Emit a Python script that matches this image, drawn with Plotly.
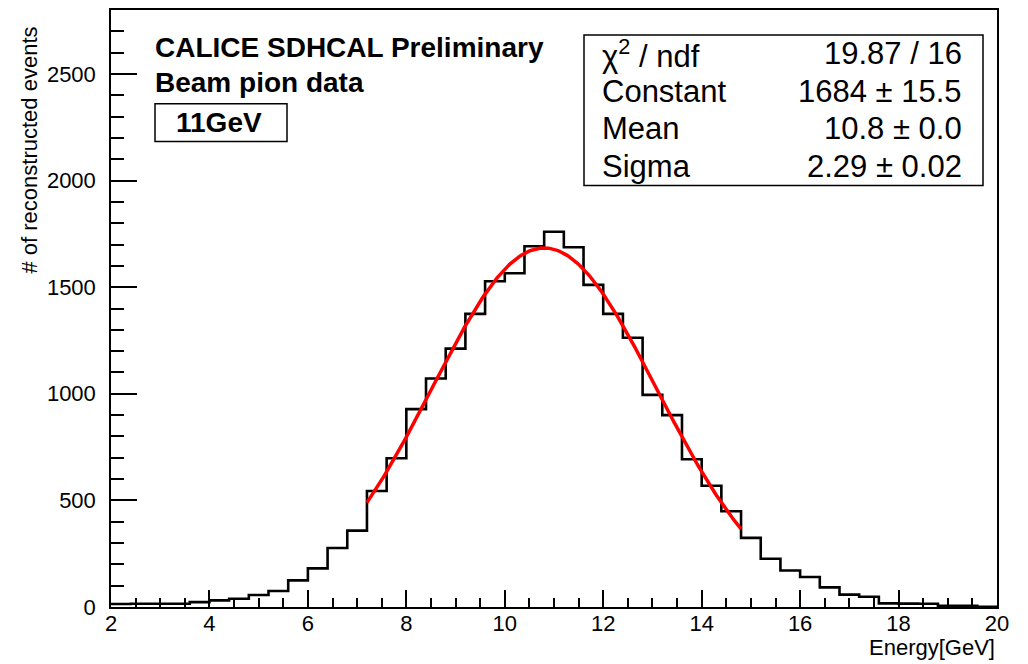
import numpy as np
import plotly.graph_objects as go

# Histogram binning (GeV) and bin contents
bin_low = 2.0
bin_width = 0.4
counts = [14, 15, 15, 15, 23, 31, 39, 56, 75, 125,
          181, 277, 358, 544, 698, 928, 1072, 1212, 1375, 1528,
          1565, 1692, 1760, 1687, 1511, 1375, 1263, 995, 900, 693,
          569, 449, 324, 226, 171, 141, 92, 58, 48, 17,
          16, 15, 6, 6, 1]

# Gaussian fit results
fit_constant = 1684
fit_mean = 10.8
fit_sigma = 2.29
fit_range = [7.2, 14.8]

stats_labels = ["χ<sup>2</sup> / ndf", "Constant", "Mean", "Sigma"]
stats_values = ["19.87 / 16", "1684 ± 15.5", "10.8 ± 0.0", "2.29 ± 0.02"]

W, H = 1028, 664
L, R, T, B = 111, 997, 8, 607  # plot frame in pixels
FONT = "Liberation Sans, Arial, Helvetica, sans-serif"


def px(x):
    return (x - L) / (R - L)


def py(y):
    return (B - y) / (B - T)


edges = bin_low + bin_width * np.arange(len(counts) + 1)
step_y = list(counts) + [counts[-1]]

xf = np.linspace(fit_range[0], fit_range[1], 300)
yf = fit_constant * np.exp(-0.5 * ((xf - fit_mean) / fit_sigma) ** 2)

fig = go.Figure()
fig.add_trace(go.Scatter(x=edges, y=step_y, mode="lines", line_shape="hv",
                         line=dict(color="black", width=2.6), hoverinfo="skip"))
fig.add_trace(go.Scatter(x=xf, y=yf, mode="lines",
                         line=dict(color="#ff0000", width=3.5), hoverinfo="skip"))

shapes = []
annotations = []

# Stats box
sb = (584, 33, 983, 184)
shapes.append(dict(type="rect", xref="paper", yref="paper",
                   x0=px(sb[0]), x1=px(sb[2]), y0=py(sb[3]), y1=py(sb[1]),
                   line=dict(color="black", width=1.5), fillcolor="white"))
row_h = (sb[3] - sb[1]) / len(stats_labels)
for i, (lab, val) in enumerate(zip(stats_labels, stats_values)):
    yc = sb[1] + row_h * (i + 0.5)
    annotations.append(dict(xref="paper", yref="paper", x=px(600), y=py(yc),
                            xanchor="left", yanchor="middle", text=lab, showarrow=False,
                            font=dict(family=FONT, size=31, color="black")))
    annotations.append(dict(xref="paper", yref="paper", x=px(964), y=py(yc),
                            xanchor="right", yanchor="middle", text=val, showarrow=False,
                            font=dict(family=FONT, size=31, color="black")))

# Title texts
annotations.append(dict(xref="paper", yref="paper", x=px(153), y=py(46),
                        xanchor="left", yanchor="middle", text="<b>CALICE SDHCAL Preliminary</b>",
                        showarrow=False, font=dict(family=FONT, size=28, color="black")))
annotations.append(dict(xref="paper", yref="paper", x=px(153), y=py(81),
                        xanchor="left", yanchor="middle", text="<b>Beam pion data</b>",
                        showarrow=False, font=dict(family=FONT, size=28, color="black")))
eb = (155, 102, 287, 140)
shapes.append(dict(type="rect", xref="paper", yref="paper",
                   x0=px(eb[0]), x1=px(eb[2]), y0=py(eb[3]), y1=py(eb[1]),
                   line=dict(color="black", width=1.5), fillcolor="white"))
annotations.append(dict(xref="paper", yref="paper", x=px((eb[0] + eb[2]) / 2 - 2), y=py(121),
                        xanchor="center", yanchor="middle", text="<b>11GeV</b>",
                        showarrow=False, font=dict(family=FONT, size=28, color="black")))

# Axis titles
annotations.append(dict(xref="paper", yref="paper", x=px(997), y=py(648),
                        xanchor="right", yanchor="middle", text="Energy[GeV]",
                        showarrow=False, font=dict(family=FONT, size=22, color="black")))
annotations.append(dict(xref="paper", yref="paper", x=px(30), y=py(149),
                        xanchor="center", yanchor="middle", text="# of reconstructed events",
                        textangle=-90, showarrow=False,
                        font=dict(family=FONT, size=22, color="black")))

fig.update_layout(
    width=W, height=H,
    margin=dict(l=L, r=W - R, t=T, b=H - B, pad=0),
    paper_bgcolor="white", plot_bgcolor="white",
    showlegend=False,
    shapes=shapes, annotations=annotations,
    xaxis=dict(range=[2, 20], tick0=2, dtick=2, ticks="inside", ticklen=17, tickwidth=1.5,
               tickcolor="black", showline=True, linecolor="black", linewidth=1.5,
               mirror=True, showgrid=False, zeroline=False, ticklabelstandoff=-4,
               tickfont=dict(family=FONT, size=22, color="black"),
               minor=dict(dtick=0.5, tick0=2, ticks="inside", ticklen=9, tickwidth=1.5,
                          tickcolor="black", showgrid=False)),
    yaxis=dict(range=[0, 2800], tick0=0, dtick=500, ticks="inside", ticklen=26, tickwidth=1.5,
               tickcolor="black", showline=True, linecolor="black", linewidth=1.5,
               mirror=True, showgrid=False, zeroline=False, ticklabelstandoff=9,
               tickfont=dict(family=FONT, size=22, color="black"),
               minor=dict(dtick=100, tick0=0, ticks="inside", ticklen=13, tickwidth=1.5,
                          tickcolor="black", showgrid=False)),
)

fig.write_html("out.html")
